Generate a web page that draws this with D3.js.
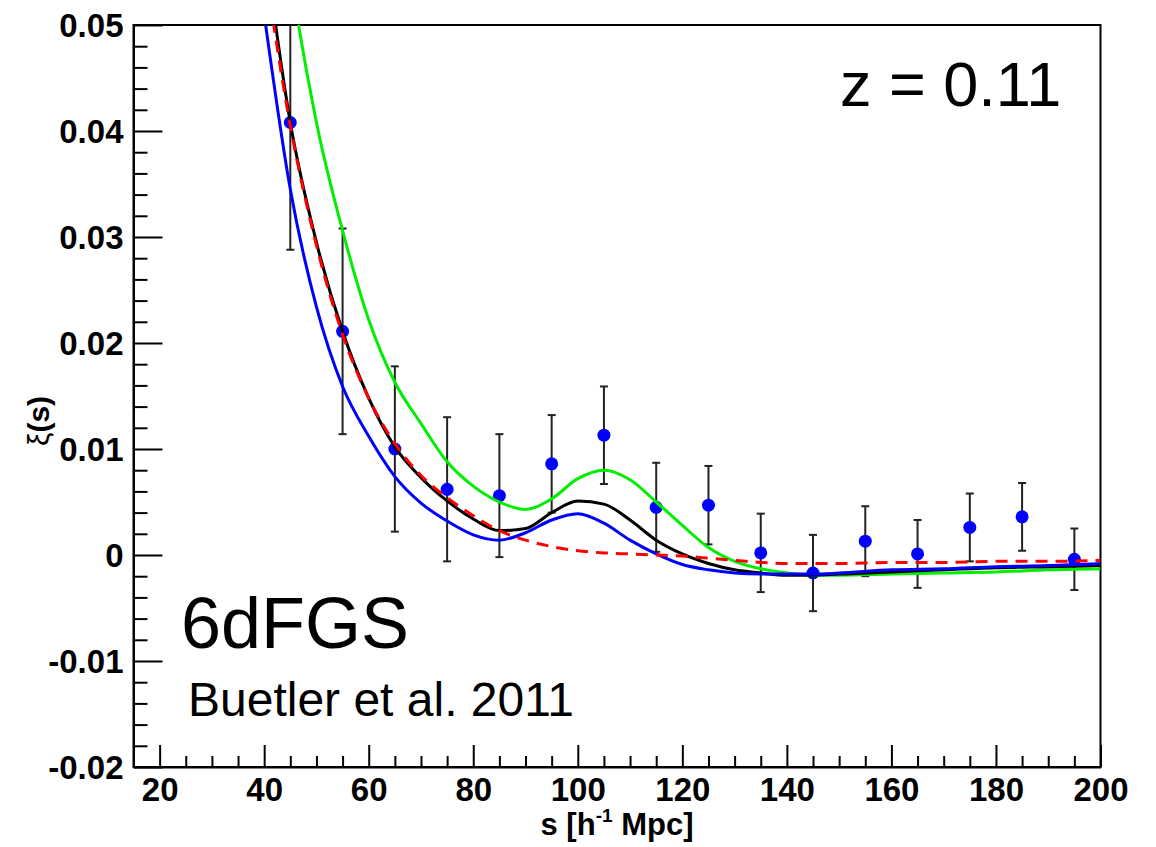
<!DOCTYPE html>
<html>
<head>
<meta charset="utf-8">
<script src="https://cdn.jsdelivr.net/npm/d3@7"></script>
<style>
  body { margin: 0; background: #fff; }
  svg { display: block; }
  text { font-family: "Liberation Sans", Arial, Helvetica, sans-serif; }
</style>
</head>
<body>
<svg id="chart" width="1156" height="847"></svg>
<script>
// measured points, xi(s) with 1-sigma errors
const sData = [45, 55, 65, 75, 85, 95, 105, 115, 125, 135, 145, 155, 165, 175, 185, 195];
const xiData = [0.0408, 0.0211, 0.0100, 0.0062, 0.0056, 0.0086, 0.0113, 0.0045, 0.0047, 0.0002,
  -0.0017, 0.0013, 0.0001, 0.0026, 0.0036, -0.0004];
const errData = [0.0120, 0.0097, 0.0078, 0.0068, 0.0058, 0.0046, 0.0046, 0.0042, 0.0037, 0.0037,
  0.0036, 0.0033, 0.0032, 0.0032, 0.0032, 0.0029];

// model curves
const sModel = [40, 45, 50, 55, 60, 65, 70, 75, 80, 85, 90, 95, 100, 105, 110, 115, 120, 125,
  130, 135, 140, 145, 150, 160, 170, 180, 190, 200];
const xiBlack = [0.058, 0.0408, 0.0295, 0.0211, 0.0148, 0.0102, 0.0073, 0.0051, 0.0034, 0.0023,
  0.0025, 0.0040, 0.0051, 0.0048, 0.0033, 0.0014, 0.0001, -0.0008, -0.0014, -0.0017, -0.0019,
  -0.0019, -0.0018, -0.0016, -0.0014, -0.0012, -0.0011, -0.0010];
const xiRed = [0.056, 0.0405, 0.0292, 0.0208, 0.0148, 0.0105, 0.0075, 0.0054, 0.0037, 0.0023,
  0.0014, 0.0008, 0.0004, 0.0002, 0.0001, 0.0000, -0.0001, -0.0003, -0.0005, -0.0007, -0.0008,
  -0.0008, -0.0008, -0.0007, -0.0007, -0.0006, -0.0006, -0.0005];
const xiBlue = [0.051, 0.0345, 0.0234, 0.0159, 0.0112, 0.0074, 0.0049, 0.0032, 0.0019, 0.0014,
  0.0021, 0.0033, 0.0039, 0.0030, 0.0014, 0.0001, -0.0009, -0.0014, -0.0017, -0.0018, -0.0018,
  -0.0018, -0.0017, -0.0014, -0.0013, -0.0011, -0.0010, -0.0008];
const xiGreen = [0.075, 0.055, 0.0408, 0.0306, 0.0222, 0.0163, 0.0124, 0.0088, 0.0065, 0.0050,
  0.0043, 0.0053, 0.0072, 0.0080, 0.0071, 0.0050, 0.0028, 0.0007, -0.0006, -0.0013, -0.0017,
  -0.0019, -0.0019, -0.0018, -0.0017, -0.0016, -0.0014, -0.0013];

const xTicks = [20, 40, 60, 80, 100, 120, 140, 160, 180, 200];
const yTicks = [-0.02, -0.01, 0, 0.01, 0.02, 0.03, 0.04, 0.05];

var frameL = 133.5, frameR = 1100.5, frameT = 25, frameB = 767;

var svg = d3.select('#chart');

var x = d3.scaleLinear().domain([15, 200]).range([frameL, frameR]);
var y = d3.scaleLinear().domain([-0.02, 0.05]).range([frameB, frameT]);

svg.append('defs').append('clipPath').attr('id', 'frame')
  .append('rect')
  .attr('x', frameL).attr('y', frameT)
  .attr('width', frameR - frameL).attr('height', frameB - frameT);

// minor ticks first, then major ticks with labels
var xMinor = d3.range(20, 201, 5).filter(function(v) { return v % 20 !== 0; });
var yMinor = d3.range(-20, 51, 2).map(function(v) { return v / 1000; })
  .filter(function(v) { return Math.round(v * 1000) % 10 !== 0; });

svg.append('g')
  .attr('transform', 'translate(0,' + frameB + ')')
  .call(d3.axisBottom(x).tickValues(xMinor).tickSize(-11).tickSizeOuter(0).tickFormat(''))
  .call(function(g) { g.select('.domain').remove(); });

svg.append('g')
  .attr('transform', 'translate(' + frameL + ',0)')
  .call(d3.axisLeft(y).tickValues(yMinor).tickSize(-14).tickSizeOuter(0).tickFormat(''))
  .call(function(g) { g.select('.domain').remove(); });

var xAxis = svg.append('g')
  .attr('transform', 'translate(0,' + frameB + ')')
  .call(d3.axisBottom(x).tickValues(xTicks).tickSize(-22).tickSizeOuter(0).tickPadding(11)
    .tickFormat(d3.format('d')));

// ROOT style labels: plain hyphen for negatives
var yFmt = d3.formatLocale({ decimal: '.', thousands: ',', grouping: [3], currency: ['', ''], minus: '-' })
  .format('.2f');

var yAxis = svg.append('g')
  .attr('transform', 'translate(' + frameL + ',0)')
  .call(d3.axisLeft(y).tickValues(yTicks).tickSize(-29).tickSizeOuter(0).tickPadding(10)
    .tickFormat(function(d) { return d === 0 ? '0' : yFmt(d); }));

svg.selectAll('.tick line').attr('stroke', '#000').attr('stroke-width', 2);
svg.selectAll('.domain').attr('stroke', '#000').attr('stroke-width', 2);
xAxis.selectAll('text').attr('font-size', 33).attr('font-weight', 'bold').attr('fill', '#000');
yAxis.selectAll('text').attr('font-size', 33).attr('font-weight', 'bold').attr('fill', '#000')
  .attr('dy', '0.36em');

// frame top and right
svg.append('rect')
  .attr('x', frameL).attr('y', frameT)
  .attr('width', frameR - frameL).attr('height', frameB - frameT)
  .attr('fill', 'none').attr('stroke', '#000').attr('stroke-width', 2);

var plot = svg.append('g').attr('clip-path', 'url(#frame)');

var pts = sData.map(function(s, i) { return { s: s, v: xiData[i], e: errData[i] }; });

// error bars
var eb = plot.selectAll('g.err').data(pts).enter().append('g').attr('class', 'err')
  .attr('stroke', '#222').attr('stroke-width', 2);
eb.append('line')
  .attr('x1', function(d) { return x(d.s); }).attr('x2', function(d) { return x(d.s); })
  .attr('y1', function(d) { return y(d.v + d.e); }).attr('y2', function(d) { return y(d.v - d.e); });
eb.append('line')
  .attr('x1', function(d) { return x(d.s) - 4; }).attr('x2', function(d) { return x(d.s) + 4; })
  .attr('y1', function(d) { return y(d.v + d.e); }).attr('y2', function(d) { return y(d.v + d.e); });
eb.append('line')
  .attr('x1', function(d) { return x(d.s) - 4; }).attr('x2', function(d) { return x(d.s) + 4; })
  .attr('y1', function(d) { return y(d.v - d.e); }).attr('y2', function(d) { return y(d.v - d.e); });

plot.selectAll('circle.pt').data(pts).enter().append('circle').attr('class', 'pt')
  .attr('cx', function(d) { return x(d.s); })
  .attr('cy', function(d) { return y(d.v); })
  .attr('r', 6.5)
  .attr('fill', '#0000ff');

var line = d3.line()
  .x(function(d) { return x(d[0]); })
  .y(function(d) { return y(d[1]); })
  .curve(d3.curveMonotoneX);

function curve(vals, color, dash) {
  plot.append('path')
    .datum(d3.zip(sModel, vals))
    .attr('d', line)
    .attr('fill', 'none')
    .attr('stroke', color)
    .attr('stroke-width', 3)
    .attr('stroke-dasharray', dash || null);
}

curve(xiGreen, '#00ee00');
curve(xiBlack, '#000000');
curve(xiBlue, '#0000ff');
curve(xiRed, '#ff0000', '12,8');

// labels
svg.append('text')
  .attr('x', 840).attr('y', 106)
  .attr('font-size', 63)
  .text('z = 0.11');

svg.append('text')
  .attr('x', 181).attr('y', 648)
  .attr('font-size', 72)
  .text('6dFGS');

svg.append('text')
  .attr('x', 188).attr('y', 716)
  .attr('font-size', 48)
  .text('Buetler et al. 2011');

var xt = svg.append('text')
  .attr('x', 617).attr('y', 835)
  .attr('text-anchor', 'middle')
  .attr('font-size', 31)
  .attr('font-weight', 'bold');
xt.append('tspan').text('s [h');
xt.append('tspan').attr('font-size', 19).attr('dy', -13).text('-1');
xt.append('tspan').attr('dy', 13).text(' Mpc]');

var yt = svg.append('text')
  .attr('transform', 'translate(49,421) rotate(-90)')
  .attr('text-anchor', 'middle')
  .attr('font-size', 30)
  .attr('font-weight', 'bold');
yt.append('tspan').attr('font-weight', 'normal').text('ξ');
yt.append('tspan').text('(s)');
</script>
</body>
</html>
